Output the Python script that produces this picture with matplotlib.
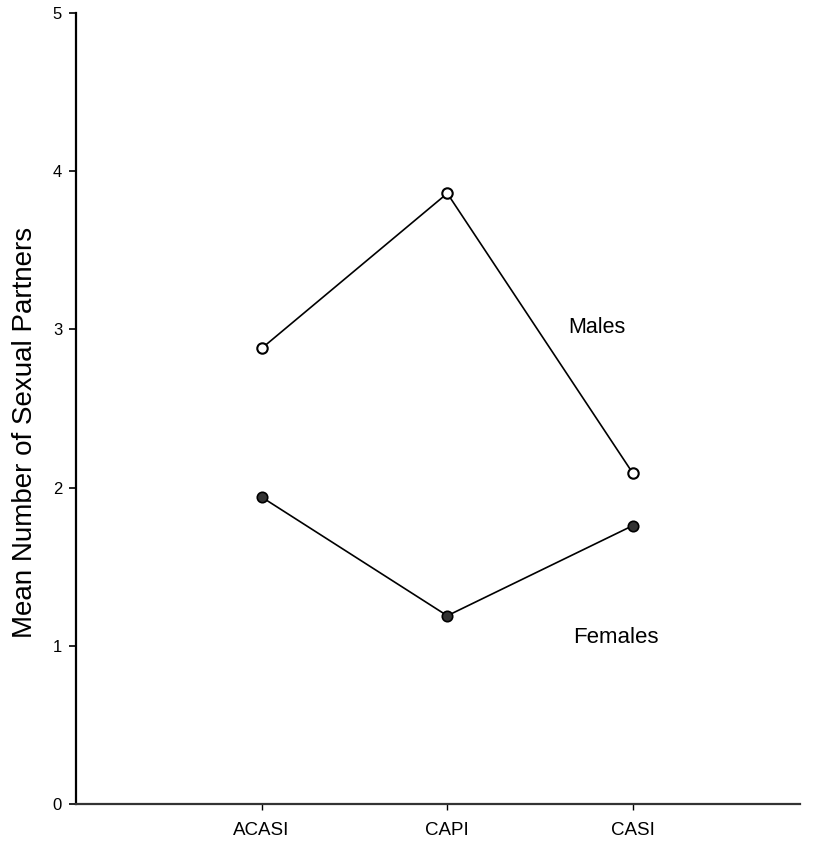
import matplotlib
matplotlib.use("Agg")
import matplotlib.pyplot as plt

# data
modes = ["ACASI", "CAPI", "CASI"]
x_pos = [1, 2, 3]
males = [2.88, 3.86, 2.09]
females = [1.94, 1.19, 1.76]
y_ticks = [0, 1, 2, 3, 4, 5]

plt.rcParams['font.family'] = ['Liberation Sans', 'DejaVu Sans']

fig = plt.figure(figsize=(8.14, 8.42), dpi=100)
ax = fig.add_axes([76/814, 1-804/842, (800-76)/814, (804-13)/842])

# males: open circles, females: filled
ax.plot(x_pos, males, color="black", lw=1.2, marker="o", ms=7.5,
        mfc="white", mec="black", mew=1.5, zorder=3)
ax.plot(x_pos, females, color="black", lw=1.2, marker="o", ms=7.5,
        mfc="#333333", mec="black", mew=1.2, zorder=3)

ax.text(2.65, 3.015, "Males", fontsize=15.5, va="center", ha="left")
ax.text(2.68, 1.055, "Females", fontsize=16, va="center", ha="left")

ax.set_xlim(0, 3.9)
ax.set_ylim(0, 5)
ax.set_yticks(y_ticks)
ax.set_xticks(x_pos)
ax.set_xticklabels(modes, fontsize=13.5)
ax.tick_params(axis="y", labelsize=12, length=5, width=1.2, pad=5, direction="out")
ax.tick_params(axis="x", length=4, width=1.0, pad=9, direction="out")

ax.set_ylabel("Mean Number of Sexual Partners", fontsize=20)
ax.yaxis.set_label_coords(-0.052, 0.47)

ax.spines["top"].set_visible(False)
ax.spines["right"].set_visible(False)
ax.spines["left"].set_linewidth(1.6)
ax.spines["bottom"].set_linewidth(1.6)
ax.spines["bottom"].set_color("#333333")

fig.savefig("out.png", dpi=100)
